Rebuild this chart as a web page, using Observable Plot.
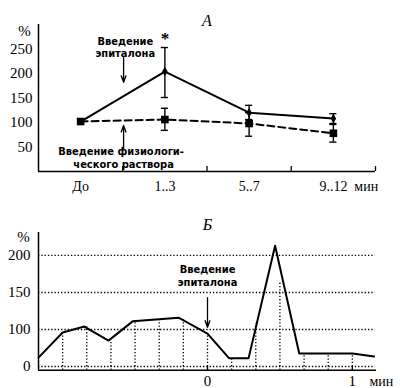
<!DOCTYPE html>
<html><head><meta charset="utf-8">
<script src="https://cdn.jsdelivr.net/npm/d3@7"></script>
<script src="https://cdn.jsdelivr.net/npm/@observablehq/plot@0.6"></script>
<style>
body{margin:0;background:#fff}
#chart svg{display:block}
</style>
</head><body><div id="chart"></div>
<script>
// ---------- Panel A data ----------
const categories = ["До", "1..3", "5..7", "9..12"];
const epitalonMean = [102, 204, 120, 108];
const epitalonLow  = [null, 151, 106, 98];
const epitalonHigh = [null, 253, 135, 118];
const salineMean = [102, 106, 98, 78];
const salineLow  = [null, 84, 72, 60];
const salineHigh = [null, 129, 120, 96];
const yTicksA = [50, 100, 150, 200, 250];
const xUnitA = "мин";

// ---------- Panel Б data ----------
const lineTimes  = [-70, -60, -51, -41, -31, -20, -12, 0, 9, 17, 28, 38, 60, 69];
const lineValues = [24, 92, 104, 70, 111, 114, 116, 89, 22, 22, 213, 35, 35, 27];
const dropTimes  = [-60, -50, -40, -30, -20, -10, 0, 10, 20, 30, 40, 50, 60];
const dropValues = [92, 104, 70, 111, 114, 113, 89, 22, 108, 165, 35, 35, 35];
const yTicksB = [0, 100, 150, 200];
const xTicksB = [0, 60];
const xTickLabelsB = ["0", "1"];

// ---------- annotation texts ----------
const notesA = [
  {text: "Введение", x: 1.03, y: 265},
  {text: "эпиталона", x: 1.03, y: 240},
  {text: "Введение физиологи-", x: 0.98, y: 40},
  {text: "ческого раствора", x: 1.01, y: 14}
];
const notesB = [
  {text: "Введение", x: 0, y: 181},
  {text: "эпиталона", x: 0, y: 164}
];

const serif = "'Liberation Serif', 'Times New Roman', serif";
const narrow = "'Liberation Sans Narrow', 'DejaVu Sans Condensed', 'Liberation Sans', sans-serif";

// ---------- Panel A ----------
const rowsA = categories.map((c, i) => ({
  x: i + 0.5, cat: c,
  em: epitalonMean[i], el: epitalonLow[i], eh: epitalonHigh[i],
  sm: salineMean[i], sl: salineLow[i], sh: salineHigh[i]
}));
const errA = rowsA.filter(d => d.el != null);
const cap = 0.042;

const plotA = Plot.plot({
  width: 400, height: 195,
  marginLeft: 38, marginRight: 25, marginTop: 24, marginBottom: 24,
  style: {fontFamily: serif, fontSize: "14px", background: "white", color: "black"},
  x: {domain: [0, 4], axis: null},
  y: {domain: [0, 300], axis: null},
  marks: [
    Plot.ruleY([0], {x1: 0, x2: 4, strokeWidth: 1.5}),
    Plot.ruleX([0], {y1: 0, y2: 300, strokeWidth: 1.5}),
    Plot.ruleX([1, 2, 3, 4], {y1: 0, y2: 10, strokeWidth: 1.3}),
    Plot.text(yTicksA, {x: 0, y: d => d, text: d => String(d), dx: -6, textAnchor: "end", fontSize: 15}),
    Plot.text(["%"], {x: 0, y: 286, dx: -14, fontSize: 15}),
    Plot.text(rowsA, {x: "x", y: 0, text: "cat", dy: 15, fontSize: 14}),
    Plot.text([xUnitA], {x: 3.89, y: 0, dy: 15, fontSize: 14}),
    // lines
    Plot.line(rowsA, {x: "x", y: "sm", strokeWidth: 2, strokeDasharray: "7,4"}),
    Plot.line(rowsA, {x: "x", y: "em", strokeWidth: 2}),
    // error bars
    Plot.ruleX(errA, {x: "x", y1: "el", y2: "eh", strokeWidth: 1.4}),
    Plot.ruleY(errA, {x1: d => d.x - cap, x2: d => d.x + cap, y: "el", strokeWidth: 1.4}),
    Plot.ruleY(errA, {x1: d => d.x - cap, x2: d => d.x + cap, y: "eh", strokeWidth: 1.4}),
    Plot.ruleX(errA, {x: "x", y1: "sl", y2: "sh", strokeWidth: 1.4}),
    Plot.ruleY(errA, {x1: d => d.x - cap, x2: d => d.x + cap, y: "sl", strokeWidth: 1.4}),
    Plot.ruleY(errA, {x1: d => d.x - cap, x2: d => d.x + cap, y: "sh", strokeWidth: 1.4}),
    // points
    Plot.dot(rowsA, {x: "x", y: "sm", symbol: "square", r: 4.3, fill: "black"}),
    Plot.dot(rowsA.slice(1), {x: "x", y: "em", symbol: "diamond", r: 2.9, fill: "black"}),
    // significance star
    Plot.text([rowsA[1]], {x: "x", y: "eh", text: () => "*", dy: -9, fontSize: 17, fontWeight: "bold"}),
    // annotations
    Plot.text(notesA, {x: "x", y: "y", text: "text", fontFamily: narrow, fontWeight: "bold", fontSize: 11}),
    Plot.arrow([0], {x1: 1.01, y1: 235, x2: 1.01, y2: 182, headLength: 8, headAngle: 40, strokeWidth: 1.3}),
    Plot.arrow([0], {x1: 1.01, y1: 47, x2: 1.01, y2: 94, headLength: 8, headAngle: 40, strokeWidth: 1.3}),
    // title
    Plot.text(["А"], {frameAnchor: "top", dy: -10, fontStyle: "italic", fontSize: 16})
  ]
});

// ---------- Panel Б ----------
const rowsLine = lineTimes.map((t, i) => ({t, v: lineValues[i]}));
const rowsDrop = dropTimes.map((t, i) => ({t, v: dropValues[i]}));

const plotB = Plot.plot({
  width: 400, height: 193,
  marginLeft: 38, marginRight: 24, marginTop: 37, marginBottom: 18.3,
  style: {fontFamily: serif, fontSize: "14px", background: "white", color: "black"},
  x: {domain: [-70, 70], axis: null},
  y: {type: "linear", domain: [-10, 100, 231], range: [174.7, 134, 37], axis: null},
  marks: [
    Plot.ruleY(yTicksB, {x1: -70, x2: 69.5, strokeDasharray: "1.3,2", strokeWidth: 1.3}),
    Plot.ruleX(rowsDrop, {x: "t", y1: -10, y2: "v", strokeDasharray: "1.3,2", strokeWidth: 1.3}),
    Plot.ruleY([-10], {x1: -70, x2: 70, strokeWidth: 1.5}),
    Plot.ruleX([-70], {y1: -10, y2: 231, strokeWidth: 1.5}),
    Plot.ruleX(xTicksB, {y1: -10, y2: 1, strokeWidth: 1.3}),
    Plot.line(rowsLine, {x: "t", y: "v", strokeWidth: 2}),
    Plot.text(yTicksB, {x: -70, y: d => d, text: d => String(d), dx: -8, textAnchor: "end", fontSize: 15}),
    Plot.text(["%"], {x: -70, y: 224, dx: -15, fontSize: 15}),
    Plot.text(xTicksB, {x: d => d, y: -10, dy: 11, text: (d, i) => xTickLabelsB[i], fontSize: 15}),
    Plot.text([xUnitA], {x: 72, y: -10, dy: 11, fontSize: 14}),
    Plot.text(notesB, {x: "x", y: "y", text: "text", fontFamily: narrow, fontWeight: "bold", fontSize: 11}),
    Plot.arrow([0], {x1: 0, y1: 143, x2: 0, y2: 103, headLength: 8, headAngle: 40, strokeWidth: 1.3}),
    Plot.text(["Б"], {frameAnchor: "top", dy: -14, fontStyle: "italic", fontSize: 16})
  ]
});

document.getElementById("chart").append(plotA, plotB);
</script>
</body></html>
